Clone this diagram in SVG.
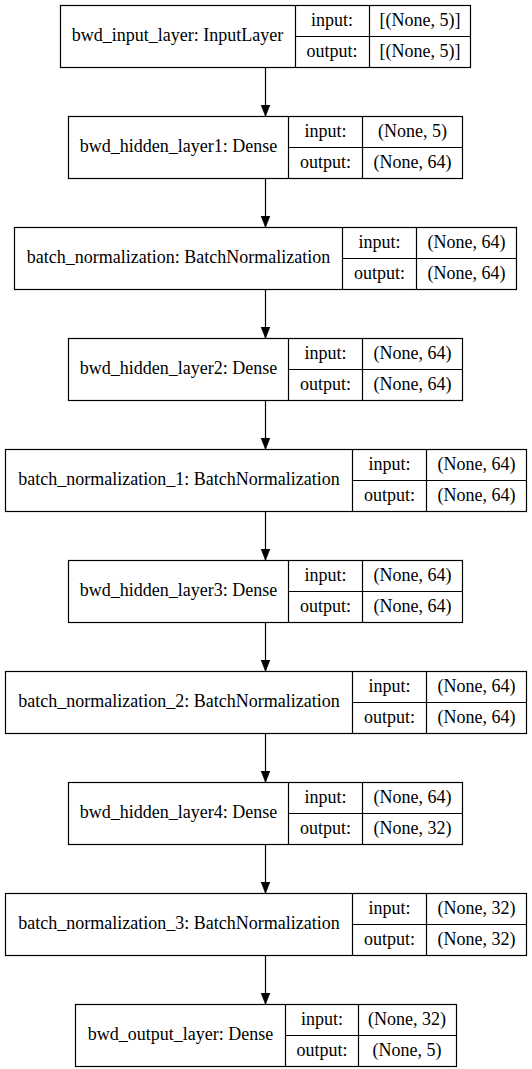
<svg xmlns="http://www.w3.org/2000/svg" width="532" height="1069" viewBox="0 0 532 1069">
<style>
.b{fill:#fff;stroke:#000;stroke-width:1.2}
.l{stroke:#000;stroke-width:1.2;fill:none}
text{font-family:"Liberation Serif","Times New Roman",serif;font-size:18px;fill:#000;text-anchor:middle}
.c{stroke:#000;stroke-width:1.2;fill:none}
</style>
<defs>
<marker id="ah" markerUnits="userSpaceOnUse" markerWidth="11" markerHeight="14" viewBox="0 0 14 11" refX="14" refY="5.5" orient="auto">
<path d="M0,0 L14,5.5 L0,11 z" fill="#000" stroke="#000"/>
</marker>
</defs>
<rect width="532" height="1069" fill="#fff"/>
<g id="connectors">
<line class="c" x1="265.5" y1="67" x2="265.5" y2="116" marker-end="url(#ah)"/>
<line class="c" x1="265.5" y1="178" x2="265.5" y2="227" marker-end="url(#ah)"/>
<line class="c" x1="265.5" y1="289" x2="265.5" y2="338" marker-end="url(#ah)"/>
<line class="c" x1="265.5" y1="400" x2="265.5" y2="449" marker-end="url(#ah)"/>
<line class="c" x1="265.5" y1="511" x2="265.5" y2="560" marker-end="url(#ah)"/>
<line class="c" x1="265.5" y1="622" x2="265.5" y2="671" marker-end="url(#ah)"/>
<line class="c" x1="265.5" y1="733" x2="265.5" y2="782" marker-end="url(#ah)"/>
<line class="c" x1="265.5" y1="844" x2="265.5" y2="893" marker-end="url(#ah)"/>
<line class="c" x1="265.5" y1="955" x2="265.5" y2="1004" marker-end="url(#ah)"/>
</g>
<g id="bwd_input_layer">
<rect class="b" x="60.5" y="5.5" width="410" height="62"/>
<path class="l" d="M295.5,5.5V67.5M369.5,5.5V67.5M295.5,36.5H470.5"/>
<text x="177.5" y="41">bwd_input_layer: InputLayer</text>
<text x="332" y="26">input:</text>
<text x="332" y="57">output:</text>
<text x="420" y="26">[(None, 5)]</text>
<text x="420" y="57">[(None, 5)]</text>
</g>
<g id="bwd_hidden_layer1">
<rect class="b" x="68.5" y="116.5" width="394" height="62"/>
<path class="l" d="M288.5,116.5V178.5M362.5,116.5V178.5M288.5,147.5H462.5"/>
<text x="178.5" y="152">bwd_hidden_layer1: Dense</text>
<text x="325.5" y="137">input:</text>
<text x="325.5" y="168">output:</text>
<text x="412.5" y="137">(None, 5)</text>
<text x="412.5" y="168">(None, 64)</text>
</g>
<g id="batch_normalization">
<rect class="b" x="14.5" y="227.5" width="502" height="62"/>
<path class="l" d="M342.5,227.5V289.5M416.5,227.5V289.5M342.5,258.5H516.5"/>
<text x="178.5" y="263">batch_normalization: BatchNormalization</text>
<text x="379.5" y="248">input:</text>
<text x="379.5" y="279">output:</text>
<text x="466.5" y="248">(None, 64)</text>
<text x="466.5" y="279">(None, 64)</text>
</g>
<g id="bwd_hidden_layer2">
<rect class="b" x="68.5" y="338.5" width="394" height="62"/>
<path class="l" d="M288.5,338.5V400.5M362.5,338.5V400.5M288.5,369.5H462.5"/>
<text x="178.5" y="374">bwd_hidden_layer2: Dense</text>
<text x="325.5" y="359">input:</text>
<text x="325.5" y="390">output:</text>
<text x="412.5" y="359">(None, 64)</text>
<text x="412.5" y="390">(None, 64)</text>
</g>
<g id="batch_normalization_1">
<rect class="b" x="5.5" y="449.5" width="521" height="62"/>
<path class="l" d="M352.5,449.5V511.5M426.5,449.5V511.5M352.5,480.5H526.5"/>
<text x="179" y="485">batch_normalization_1: BatchNormalization</text>
<text x="389.5" y="470">input:</text>
<text x="389.5" y="501">output:</text>
<text x="476.5" y="470">(None, 64)</text>
<text x="476.5" y="501">(None, 64)</text>
</g>
<g id="bwd_hidden_layer3">
<rect class="b" x="68.5" y="560.5" width="394" height="62"/>
<path class="l" d="M288.5,560.5V622.5M362.5,560.5V622.5M288.5,591.5H462.5"/>
<text x="178.5" y="596">bwd_hidden_layer3: Dense</text>
<text x="325.5" y="581">input:</text>
<text x="325.5" y="612">output:</text>
<text x="412.5" y="581">(None, 64)</text>
<text x="412.5" y="612">(None, 64)</text>
</g>
<g id="batch_normalization_2">
<rect class="b" x="5.5" y="671.5" width="521" height="62"/>
<path class="l" d="M352.5,671.5V733.5M426.5,671.5V733.5M352.5,702.5H526.5"/>
<text x="179" y="707">batch_normalization_2: BatchNormalization</text>
<text x="389.5" y="692">input:</text>
<text x="389.5" y="723">output:</text>
<text x="476.5" y="692">(None, 64)</text>
<text x="476.5" y="723">(None, 64)</text>
</g>
<g id="bwd_hidden_layer4">
<rect class="b" x="68.5" y="782.5" width="394" height="62"/>
<path class="l" d="M288.5,782.5V844.5M362.5,782.5V844.5M288.5,813.5H462.5"/>
<text x="178.5" y="818">bwd_hidden_layer4: Dense</text>
<text x="325.5" y="803">input:</text>
<text x="325.5" y="834">output:</text>
<text x="412.5" y="803">(None, 64)</text>
<text x="412.5" y="834">(None, 32)</text>
</g>
<g id="batch_normalization_3">
<rect class="b" x="5.5" y="893.5" width="521" height="62"/>
<path class="l" d="M352.5,893.5V955.5M426.5,893.5V955.5M352.5,924.5H526.5"/>
<text x="179" y="929">batch_normalization_3: BatchNormalization</text>
<text x="389.5" y="914">input:</text>
<text x="389.5" y="945">output:</text>
<text x="476.5" y="914">(None, 32)</text>
<text x="476.5" y="945">(None, 32)</text>
</g>
<g id="bwd_output_layer">
<rect class="b" x="75.5" y="1004.5" width="381" height="62"/>
<path class="l" d="M285.5,1004.5V1066.5M358.5,1004.5V1066.5M285.5,1035.5H456.5"/>
<text x="180.5" y="1040">bwd_output_layer: Dense</text>
<text x="322" y="1025">input:</text>
<text x="322" y="1056">output:</text>
<text x="407" y="1025">(None, 32)</text>
<text x="407" y="1056">(None, 5)</text>
</g>
</svg>
